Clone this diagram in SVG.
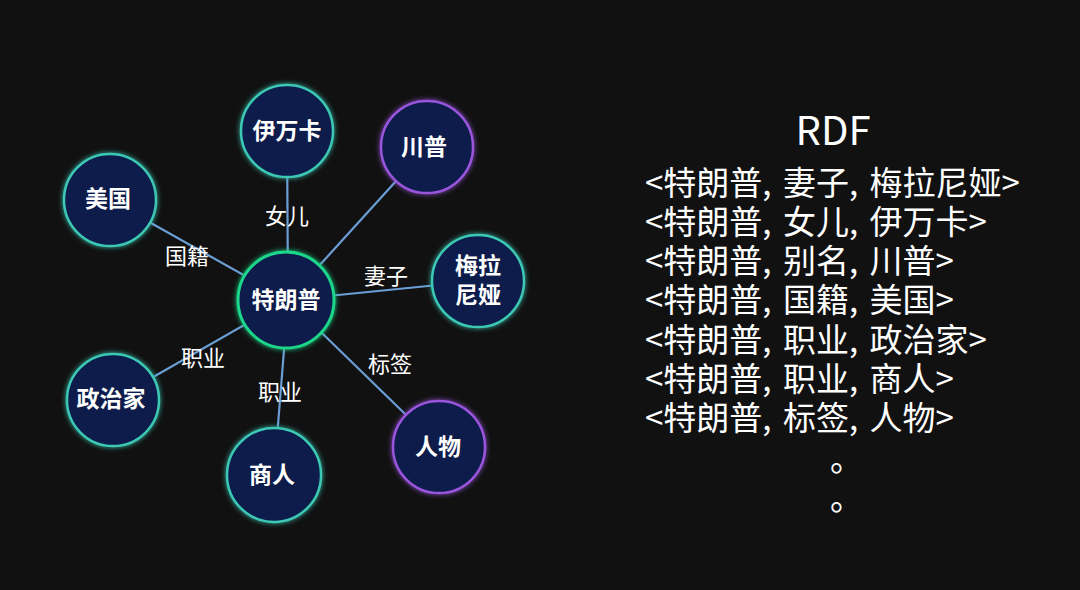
<svg xmlns="http://www.w3.org/2000/svg" width="1080" height="590" viewBox="0 0 1080 590">
<defs>
<style>
.edge{stroke:#6b9ed4;stroke-width:2.2;fill:none}
.node{fill:#0a1c4b;stroke-width:2.5}
.teal{stroke:#3cc8b4}
.green{stroke:#1ed68a;stroke-width:3}
.purple{stroke:#9a55dc}
.nl{font-family:"Noto Sans CJK SC","Microsoft YaHei",sans-serif;font-size:23px;font-weight:bold;fill:#ffffff;text-anchor:middle}
.el{font-family:"Noto Sans CJK SC","Microsoft YaHei",sans-serif;font-size:22px;fill:#ffffff;text-anchor:middle}
.rdf{font-family:"Noto Sans CJK SC","Microsoft YaHei",sans-serif;font-size:33px;fill:#ffffff;word-spacing:4px}
</style>
<filter id="glow" x="-30%" y="-30%" width="160%" height="160%">
<feGaussianBlur in="SourceGraphic" stdDeviation="2.5" result="b"/>
<feMerge><feMergeNode in="b"/><feMergeNode in="SourceGraphic"/></feMerge>
</filter>
</defs>
<rect x="0" y="0" width="1080" height="590" fill="#111111"/>
<g id="connectors">
<line class="edge" x1="288" y1="300" x2="287" y2="131"/>
<line class="edge" x1="288" y1="300" x2="427" y2="147"/>
<line class="edge" x1="288" y1="300" x2="110" y2="200"/>
<line class="edge" x1="288" y1="300" x2="478" y2="281"/>
<line class="edge" x1="288" y1="300" x2="113" y2="400"/>
<line class="edge" x1="288" y1="300" x2="274" y2="475"/>
<line class="edge" x1="288" y1="300" x2="439" y2="447"/>
<text class="el" x="287" y="224">女儿</text>
<text class="el" x="187" y="264">国籍</text>
<text class="el" x="386" y="284">妻子</text>
<text class="el" x="203" y="366">职业</text>
<text class="el" x="280" y="400">职业</text>
<text class="el" x="390" y="372">标签</text>
</g>
<g id="n-ivanka"><circle class="node teal" filter="url(#glow)" cx="287" cy="131" r="46"/><text class="nl" x="287" y="139">伊万卡</text></g>
<g id="n-chuanpu"><circle class="node purple" filter="url(#glow)" cx="427" cy="147" r="46"/><text class="nl" x="424" y="155">川普</text></g>
<g id="n-usa"><circle class="node teal" filter="url(#glow)" cx="110" cy="200" r="46"/><text class="nl" x="108" y="207">美国</text></g>
<g id="n-trump"><circle class="node green" filter="url(#glow)" cx="286" cy="300" r="48"/><text class="nl" x="286" y="308">特朗普</text></g>
<g id="n-melania"><circle class="node teal" filter="url(#glow)" cx="478" cy="281" r="46"/><text class="nl" x="478" y="274">梅拉</text><text class="nl" x="478" y="303">尼娅</text></g>
<g id="n-politician"><circle class="node teal" filter="url(#glow)" cx="113" cy="400" r="46"/><text class="nl" x="111" y="407">政治家</text></g>
<g id="n-businessman"><circle class="node teal" filter="url(#glow)" cx="274" cy="475" r="47"/><text class="nl" x="272" y="483">商人</text></g>
<g id="n-person"><circle class="node purple" filter="url(#glow)" cx="439" cy="447" r="46"/><text class="nl" x="438" y="455">人物</text></g>
<g id="rdf">
<text class="rdf" x="833" y="145" text-anchor="middle" style="font-size:40px">RDF</text>
<text class="rdf" x="645" y="195">&lt;特朗普, 妻子, 梅拉尼娅&gt;</text>
<text class="rdf" x="645" y="234">&lt;特朗普, 女儿, 伊万卡&gt;</text>
<text class="rdf" x="645" y="273">&lt;特朗普, 别名, 川普&gt;</text>
<text class="rdf" x="645" y="312">&lt;特朗普, 国籍, 美国&gt;</text>
<text class="rdf" x="645" y="352">&lt;特朗普, 职业, 政治家&gt;</text>
<text class="rdf" x="645" y="391">&lt;特朗普, 职业, 商人&gt;</text>
<text class="rdf" x="645" y="430">&lt;特朗普, 标签, 人物&gt;</text>
<text class="rdf" x="830" y="471">。</text>
<text class="rdf" x="830" y="510">。</text>
</g>
</svg>
